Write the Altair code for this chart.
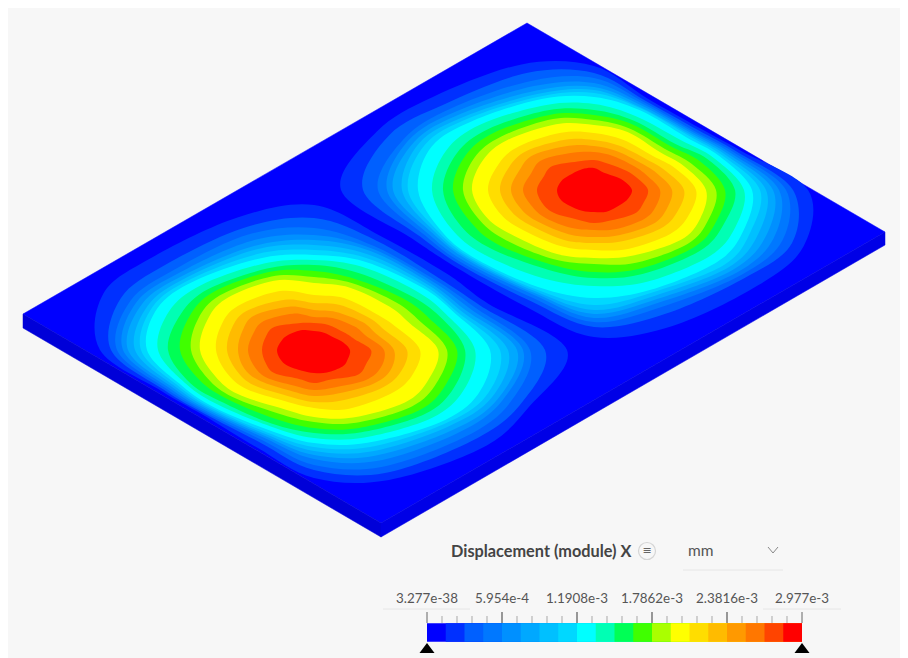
import math
import altair as alt
import pandas as pd

BG = "#f7f7f7"
RAMP = ["#0000ff","#0030ff","#0060ff","#0078ff","#0090ff","#00a8ff","#00c0ff","#00d8ff","#00ffff","#00ffb4",
        "#00ff55","#40ff00","#aaff00","#ffff00","#ffdd00","#ffbb00","#ff9900","#ff7700","#ff4400","#ff0000"]
LEVELS = list(range(20))

ANGLES = [0,15,30,60,90,120,150,165,180,195,210,240,270,300,330,345]
LEFT_CENTER = (314, 350)
LEFT = [
 [253,231,216,209,203,194,186,176,161,151,143,133,124,106,93,80,70,57,36],
 [222,213,203,195,190,184,178,170,155,145,136,127,118,101,89,79,69,54,35],
 [195,182,174,166,160,154,149,145,136,128,121,113,105,88,77,68,60,50,33],
 [150,142,135,128,122,117,112,107,101,95,90,84,78,68,58,50,43,34,26],
 [128,120,115,109,105,101,97,93,88,83,78,72,67,58,52,46,40,33,23],
 [113,107,104,101,99,97,95,92,88,85,79,73,67,59,53,47,41,33,24],
 [129,127,125,123,121,119,117,115,110,105,99,94,88,78,70,62,55,46,31],
 [158,155,152,149,146,143,140,137,132,128,118,110,102,90,80,72,62,50,35],
 [214,203,197,191,186,179,173,167,156,146,134,123,114,98,87,76,66,52,37],
 [218,200,190,184,178,172,167,162,150,138,129,120,111,96,85,74,63,50,34],
 [186,171,161,155,150,146,142,138,130,122,116,109,102,88,78,69,58,46,30],
 [153,141,133,126,120,116,111,106,100,94,90,85,80,68,58,50,42,31,23],
 [145,132,122,115,110,105,100,95,90,85,79,73,67,55,47,40,33,27,19],
 [132,126,120,117,114,110,106,102,96,89,82,77,72,60,52,44,37,29,20],
 [153,144,140,137,134,131,128,125,118,110,103,95,87,72,64,56,47,35,24],
 [180,172,166,161,156,152,148,145,137,130,120,110,100,86,74,64,54,42,30],
]
RIGHT_CENTER = (594, 190)
RIGHT = [
 [214,199,192,185,179,172,166,158,150,141,131,122,112,102,90,78,66,54,38],
 [217,205,195,186,178,170,162,155,146,134,126,118,110,98,86,75,64,51,35],
 [190,175,170,165,160,155,150,143,133,122,115,108,100,88,77,68,58,47,30],
 [157,143,135,130,126,122,118,115,106,97,91,84,76,68,59,52,45,35,25],
 [147,137,132,128,124,120,115,108,96,88,82,74,68,60,53,47,40,33,22],
 [135,128,124,121,119,117,115,112,102,92,86,80,74,65,58,51,44,34,24],
 [157,152,149,146,143,141,139,137,128,118,110,101,92,81,72,64,56,46,30],
 [188,180,175,171,167,164,161,158,148,138,127,118,110,96,85,75,64,53,35],
 [253,231,216,207,201,192,186,176,162,151,141,131,122,106,94,83,71,57,37],
 [225,212,197,192,186,181,175,168,153,142,133,124,115,99,88,77,65,52,34],
 [186,172,164,158,153,148,144,139,131,122,115,107,100,87,78,70,60,48,29],
 [145,135,126,120,115,111,108,105,98,92,87,82,76,66,58,51,43,33,24],
 [124,117,112,107,103,100,97,93,86,80,75,70,65,57,50,44,38,30,22],
 [106,103,101,99,97,95,94,92,85,80,76,71,67,58,51,45,39,30,20],
 [123,120,117,115,113,111,109,106,100,93,88,82,76,68,61,54,47,38,26],
 [152,148,145,142,139,136,133,130,124,118,110,101,93,84,74,65,55,45,32],
]
PLATE_X = [527,885,381,23]
PLATE_Y = [23,232,523,314]
SIDE_LEFT_X = [23,381,381,23]
SIDE_LEFT_Y = [314,523,537,328]
SIDE_RIGHT_X = [381,885,885,381]
SIDE_RIGHT_Y = [523,232,245,537]

VMAX = 2.977e-3
TICK_LABELS = ["3.277e-38","5.954e-4","1.1908e-3","1.7862e-3","2.3816e-3","2.977e-3"]
TICK_VALUES = [0,5.954e-4,1.1908e-3,1.7862e-3,2.3816e-3,2.977e-3]
MINOR = [VMAX*i/25 for i in range(1,25) if i % 5]
BANDS = [VMAX*i/20 for i in range(20)]

X = alt.Scale(domain=[8,900], range=[0,892])
Y = alt.Scale(domain=[8,658], range=[0,650])
V = alt.Scale(domain=[0,VMAX], range=[419,794])
FONT = "Lato"

def px(f="x"): return alt.X(f"{f}:Q", scale=X, axis=None)
def py(f="y"): return alt.Y(f"{f}:Q", scale=Y, axis=None)
def vx(f="v"): return alt.X(f"{f}:Q", scale=V, axis=None)

def poly(xs, ys, color):
    d = pd.DataFrame({"x":xs,"y":ys,"i":range(len(xs))})
    return alt.Chart(d).mark_line(interpolate="linear-closed", fill=color, stroke=color, strokeWidth=0.5).encode(
        x=px(), y=py(), order="i:Q")

rows = []
for name, (cx,cy), table in (("L",LEFT_CENTER,LEFT),("R",RIGHT_CENTER,RIGHT)):
    for lev in range(1,20):
        for k, a in enumerate(ANGLES):
            r = table[k][lev-1]
            t = math.radians(a)
            rows.append({"ring":f"{name}{lev:02d}","level":lev,"i":k,
                         "x":cx+r*math.cos(t),"y":cy+r*math.sin(t)})
rings = alt.Chart(pd.DataFrame(rows)).mark_line(interpolate="cardinal-closed", strokeWidth=0).encode(
    x=px(), y=py(), order="i:Q", detail="ring:N",
    fill=alt.Fill("level:O", scale=alt.Scale(domain=LEVELS, range=RAMP), legend=None))

bar = alt.Chart(pd.DataFrame({"v":BANDS,"v2":[VMAX]*20,"level":LEVELS})).mark_rect().encode(
    x=vx(), x2="v2:Q", y=alt.value(615.3), y2=alt.value(633.7),
    fill=alt.Fill("level:O", scale=alt.Scale(domain=LEVELS, range=RAMP), legend=None))

minor = alt.Chart(pd.DataFrame({"v":MINOR})).mark_rule(color="#b5b5b5", strokeWidth=1.2).encode(
    x=vx(), y=alt.value(608), y2=alt.value(615))
major = alt.Chart(pd.DataFrame({"v":TICK_VALUES[1:-1]})).mark_rule(color="#777777", strokeWidth=1.5).encode(
    x=vx(), y=alt.value(604), y2=alt.value(615))
ends = alt.Chart(pd.DataFrame({"v":[0,VMAX]})).mark_rule(color="#666666", strokeWidth=1).encode(
    x=vx(), y=alt.value(604), y2=alt.value(615))
labels = alt.Chart(pd.DataFrame({"v":TICK_VALUES,"t":TICK_LABELS})).mark_text(
    font=FONT, fontSize=13.4, color="#555555", align="center", baseline="middle").encode(
    x=vx(), y=alt.value(591), text="t:N")
tri = alt.Chart(pd.DataFrame({"v":[0,VMAX]})).mark_point(
    shape="M-1,0.67L1,0.67L0,-0.67Z", size=225, filled=True, color="#000000", opacity=1).encode(
    x=vx(), y=alt.value(640))

lines = alt.Chart(pd.DataFrame({"x":[383,763,683],"x2":[470,841,783],"y":[609,609,570]})).mark_rule(
    color="#e6e6e6", strokeWidth=1).encode(x=px(), x2="x2:Q", y=py())
chev = alt.Chart(pd.DataFrame({"x":[768,773,778],"y":[547,553,547],"i":[0,1,2]})).mark_line(
    color="#888888", strokeWidth=1).encode(x=px(), y=py(), order="i:Q")
ring_icon = alt.Chart(pd.DataFrame({"x":[647],"y":[551]})).mark_point(
    shape="circle", size=290, filled=False, color="#d5d5d5", strokeWidth=1.2, opacity=1).encode(x=px(), y=py())
icon_txt = alt.Chart(pd.DataFrame({"x":[647],"y":[551],"t":["≡"]})).mark_text(
    font="DejaVu Sans", fontSize=11, color="#666666").encode(x=px(), y=py(), text="t:N")
title = alt.Chart(pd.DataFrame({"x":[451],"y":[552],"t":["Displacement (module) X"]})).mark_text(
    font=FONT, fontSize=16.3, fontWeight="bold", color="#444444", align="left", baseline="middle").encode(
    x=px(), y=py(), text="t:N")
unit = alt.Chart(pd.DataFrame({"x":[688],"y":[551],"t":["mm"]})).mark_text(
    font=FONT, fontSize=15.5, color="#555555", align="left", baseline="middle").encode(
    x=px(), y=py(), text="t:N")

chart = alt.layer(
    poly(PLATE_X, PLATE_Y, "#0000ff"),
    rings,
    poly(SIDE_LEFT_X, SIDE_LEFT_Y, "#0000d8"),
    poly(SIDE_RIGHT_X, SIDE_RIGHT_Y, "#0000e6"),
    lines, chev, ring_icon, icon_txt, title, unit,
    bar, minor, major, ends, labels, tri,
).resolve_scale(x="independent", fill="shared").properties(
    width=892, height=650, background=BG, padding=0,
    autosize=alt.AutoSizeParams(type="none")
).configure_view(stroke=None)

chart.save("out.html", embed_options={"renderer": "svg", "actions": False})
